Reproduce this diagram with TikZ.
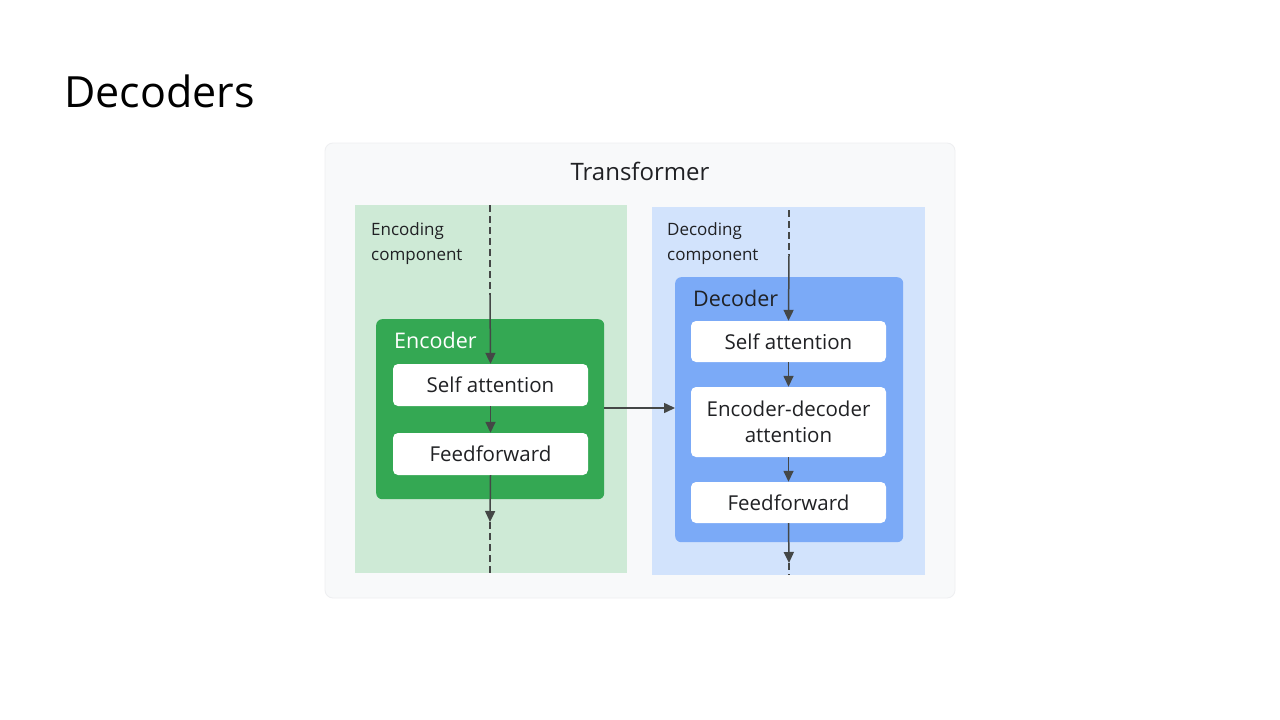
\documentclass[tikz,border=0pt]{standalone}
\usepackage{fontspec}
\setmainfont{Open Sans}
\usetikzlibrary{arrows.meta}
\definecolor{cardbg}{HTML}{F8F9FA}
\definecolor{cardline}{HTML}{EEEFF1}
\definecolor{encpanel}{HTML}{CEEAD6}
\definecolor{decpanel}{HTML}{D2E3FC}
\definecolor{encbox}{HTML}{34A853}
\definecolor{decbox}{HTML}{7BAAF7}
\definecolor{linegray}{HTML}{444746}
\definecolor{txt}{HTML}{202124}
\tikzset{
  panel/.style={draw=none, inner sep=0pt, anchor=north west},
  layerbox/.style={fill=white, rounded corners=5pt, minimum width=195pt, inner sep=0pt, align=center, font=\fontsize{20.5}{25.5}\selectfont, text=txt},
  conn/.style={draw=linegray, line width=1.5pt, -{Triangle[length=11pt,width=10pt]}},
  dashconn/.style={draw=linegray, line width=1.5pt, dash pattern=on 7pt off 4pt},
  smalltxt/.style={font=\fontsize{17}{25}\selectfont, text=txt, align=left, anchor=north west, inner sep=0pt},
}
\begin{document}
\begin{tikzpicture}[x=1pt,y=-1pt]
\useasboundingbox (0,0) rectangle (1280,720);
\fill[white] (0,0) rectangle (1280,720);
% title
\node[anchor=west, inner sep=0pt, font=\fontsize{43}{48}\selectfont, text=black] (title) at (64,91) {Decoders};
% card
\filldraw[fill=cardbg, draw=cardline, line width=0.8pt, rounded corners=8pt] (325,143) rectangle (955,598);
\node[font=\fontsize{24}{28}\selectfont, text=txt, inner sep=0pt] (tf) at (640,171) {Transformer};
% panels
\fill[encpanel] (355,205) rectangle (627,573);
\fill[decpanel] (652,207) rectangle (925,575);
\node[smalltxt] (enclab) at (371,222) {Encoding\\component};
\node[smalltxt] (declab) at (667,222) {Decoding\\component};
% encoder
\node[panel, fill=encbox, rounded corners=6pt, minimum width=228pt, minimum height=180pt] (enc) at (376,319) {};
\node[anchor=west, inner sep=0pt, font=\fontsize{21.5}{26}\selectfont, text=white] (enctitle) at (394,340) {Encoder};
\node[layerbox, minimum height=42pt] (esa) at (490.5,385) {Self attention};
\node[layerbox, minimum height=42pt] (eff) at (490.5,454) {Feedforward};
% decoder
\node[panel, fill=decbox, rounded corners=6pt, minimum width=228pt, minimum height=265pt] (dec) at (675,277) {};
\node[anchor=west, inner sep=0pt, font=\fontsize{21.5}{26}\selectfont, text=txt] (dectitle) at (693,298) {Decoder};
\node[layerbox, minimum height=41pt] (dsa) at (788.5,341.5) {Self attention};
\node[layerbox, minimum height=70pt] (dea) at (788.5,422) {Encoder-decoder\\attention};
\node[layerbox, minimum height=41pt] (dff) at (788.5,502.5) {Feedforward};
% coordinates for free ends
\coordinate (etop) at (490,205);
\coordinate (emid) at (490,295);
\coordinate (ebot) at (490,522);
\coordinate (eend) at (490,573);
\coordinate (dtop) at (789,210);
\coordinate (dmid) at (789,255);
\coordinate (dbot) at (789,563);
\coordinate (dend) at (789,575);
% encoder connectors
\draw[dashconn] (etop) -- (emid);
\draw[conn] (emid) -- (esa.north);
\draw[conn] (esa.south) -- (eff.north);
\draw[conn] (eff.south) -- (ebot);
\draw[dashconn] (ebot) -- (eend);
% decoder connectors
\draw[dashconn] (dtop) -- (dmid);
\draw[conn] (dmid) -- (dsa.north);
\draw[conn] (dsa.south) -- (dea.north);
\draw[conn] (dea.south) -- (dff.north);
\draw[conn] (dff.south) -- (dbot);
\draw[dashconn] (dbot) -- (dend);
% cross connector
\draw[conn] (enc.east |- 0,408) -- (dec.west |- 0,408);
\end{tikzpicture}
\end{document}
